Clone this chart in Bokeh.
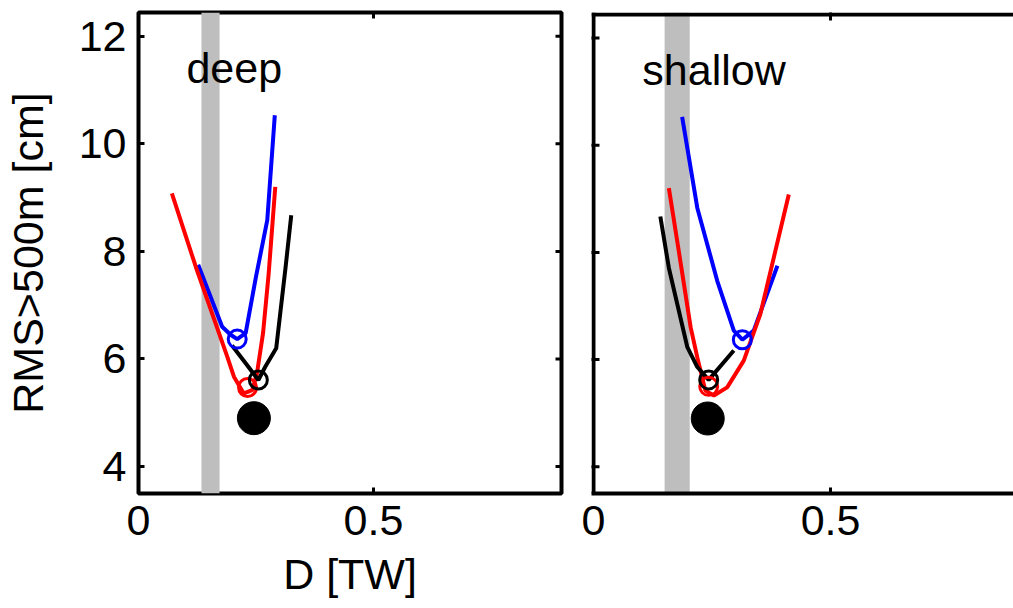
import math
from bokeh.plotting import figure
from bokeh.models import LinearAxis, BoxAnnotation, FixedTicker, Range1d, Span
from bokeh.layouts import row
from bokeh.embed import file_html
from bokeh.resources import INLINE
from bokeh.core.properties import value

FONT = "Liberation Sans"
FS = "43px"

# ---- data ----
x_ticks = [0, 0.5]
x_tick_labels = ["0", "0.5"]
y_ticks = [4, 6, 8, 10, 12]
y_tick_labels = ["4", "6", "8", "10", "12"]

deep_band = [0.134, 0.1725]
shallow_band = [0.150, 0.203]

deep_blue_x = [0.127, 0.178, 0.196, 0.210, 0.228, 0.250, 0.274, 0.290]
deep_blue_y = [7.75, 6.60, 6.45, 6.37, 6.48, 7.53, 8.58, 10.53]
deep_red_x = [0.071, 0.122, 0.189, 0.203, 0.224, 0.242, 0.252, 0.265, 0.277, 0.291]
deep_red_y = [9.08, 7.71, 6.04, 5.67, 5.36, 5.42, 5.73, 6.48, 7.59, 9.20]
deep_black_x = [0.199, 0.228, 0.255, 0.270, 0.293, 0.313, 0.325]
deep_black_y = [6.25, 5.92, 5.61, 5.86, 6.20, 7.71, 8.67]
deep_min_x = [0.210, 0.232, 0.255]
deep_min_y = [6.37, 5.47, 5.61]
deep_obs_x = [0.2455]
deep_obs_y = [4.90]

shallow_blue_x = [0.187, 0.219, 0.261, 0.296, 0.314, 0.338, 0.388]
shallow_blue_y = [10.53, 8.83, 7.47, 6.54, 6.37, 6.54, 7.75]
shallow_red_x = [0.159, 0.180, 0.205, 0.219, 0.236, 0.254, 0.282, 0.317, 0.352, 0.412]
shallow_red_y = [9.20, 8.02, 6.60, 6.04, 5.42, 5.33, 5.48, 5.98, 6.85, 9.08]
shallow_black_x = [0.141, 0.159, 0.198, 0.219, 0.243, 0.296]
shallow_black_y = [8.67, 7.71, 6.23, 5.86, 5.62, 6.17]
shallow_min_x = [0.314, 0.243, 0.243]
shallow_min_y = [6.37, 5.50, 5.62]
shallow_obs_x = [0.241]
shallow_obs_y = [4.90]

min_colors = ["blue", "red", "black"]

labels_text = ["deep", "shallow"]
label_x = [0.102, 0.103]
label_y = [11.40, 11.40]

X_LABEL = "D [TW]"
Y_LABEL = "RMS>500m [cm]"

Y_START, Y_TOP = 3.5, 12.44


def style_axis(ax, ticks, labels, line=False):
    ax.ticker = FixedTicker(ticks=ticks)
    ax.major_label_overrides = {t: l for t, l in zip(ticks, labels)}
    ax.major_tick_in = 6
    ax.major_tick_out = 0
    ax.major_tick_line_width = 3
    ax.major_tick_line_color = "black"
    ax.minor_tick_line_color = None
    ax.major_label_text_font = FONT
    ax.major_label_text_color = "black"
    ax.major_label_text_font_size = FS
    ax.major_label_standoff = 12
    ax.axis_label_text_font = FONT
    ax.axis_label_text_font_size = FS
    ax.axis_label_text_font_style = "normal"
    ax.axis_label_text_color = "black"
    if line:
        ax.axis_line_color = "black"
        ax.axis_line_width = 4
    else:
        ax.axis_line_color = None


def edge_ticks(p, x_end, y_top, left_edge, right_edge):
    # inward tick marks on frame edges (clipped to the frame, so only the inner half shows)
    xt = [t for t in x_ticks if 0 < t < x_end]
    p.scatter(xt, [y_top] * len(xt), marker="dash", angle=math.pi / 2, size=12,
              line_color="black", line_width=3)
    if left_edge:
        p.scatter([0] * len(y_ticks), y_ticks, marker="dash", size=12,
                  line_color="black", line_width=3)
    if right_edge:
        p.scatter([x_end] * len(y_ticks), y_ticks, marker="dash", size=12,
                  line_color="black", line_width=3)


def make_panel(width, mb_left, mb_right, mb_top, xstart, xend, ytop, band, series, mins, obs,
               label_idx, first):
    p = figure(width=width, height=608, x_range=Range1d(xstart, xend), y_range=Range1d(Y_START, ytop),
               output_backend="svg", toolbar_location=None,
               x_axis_location=None, y_axis_location=None,
               min_border_left=mb_left, min_border_right=mb_right,
               min_border_top=mb_top, min_border_bottom=115)
    p.grid.visible = False
    p.background_fill_color = "white"
    p.border_fill_color = "white"

    box = BoxAnnotation(left=band[0], right=band[1], fill_color="#bebebe", fill_alpha=1.0,
                        line_color=None, level="underlay")
    p.add_layout(box)

    bottom = LinearAxis()
    style_axis(bottom, x_ticks, x_tick_labels, line=not first)
    p.add_layout(bottom, "below")

    if first:
        p.outline_line_color = "black"
        p.outline_line_width = 4
        bottom.axis_label = X_LABEL
        bottom.axis_label_standoff = 12
        left = LinearAxis()
        style_axis(left, y_ticks, y_tick_labels, line=False)
        left.axis_label = Y_LABEL
        left.axis_label_standoff = 24
        p.add_layout(left, "left")
        edge_ticks(p, xend, ytop, left_edge=False, right_edge=True)
    else:
        p.outline_line_color = None
        p.add_layout(Span(location=0, dimension="height", line_color="black", line_width=4))
        p.add_layout(Span(location=Y_TOP, dimension="width", line_color="black", line_width=4))
        edge_ticks(p, xend, Y_TOP, left_edge=True, right_edge=False)

    for (xs, ys, c) in series:
        p.line(xs, ys, line_color=c, line_width=4)
    mx, my = mins
    p.scatter(mx, my, marker="circle", size=18, fill_color=None, line_color=min_colors, line_width=3)
    p.scatter(obs[0], obs[1], marker="circle", size=33, fill_color="black", line_color="black")

    p.text(x=[label_x[label_idx]], y=[label_y[label_idx]], text=[labels_text[label_idx]],
           text_font=value(FONT), text_font_size=FS, text_color="black",
           text_baseline="alphabetic", text_align="left")
    return p


p1 = make_panel(577, 136, 16, 12, 0, 0.9, Y_TOP, deep_band,
                [(deep_blue_x, deep_blue_y, "blue"), (deep_red_x, deep_red_y, "red"),
                 (deep_black_x, deep_black_y, "black")],
                (deep_min_x, deep_min_y), (deep_obs_x, deep_obs_y), 0, True)
# second panel: its frame starts 2 px before x=0 / above the top line so that the
# frame lines drawn at x=0 and y=Y_TOP are not clipped
p2 = make_panel(436, 14, 0, 10, -0.0042, 0.886, Y_TOP + 0.037, shallow_band,
                [(shallow_blue_x, shallow_blue_y, "blue"), (shallow_red_x, shallow_red_y, "red"),
                 (shallow_black_x, shallow_black_y, "black")],
                (shallow_min_x, shallow_min_y), (shallow_obs_x, shallow_obs_y), 1, False)

layout = row(p1, p2, spacing=0)
open("out.html", "w").write(file_html(layout, INLINE))
